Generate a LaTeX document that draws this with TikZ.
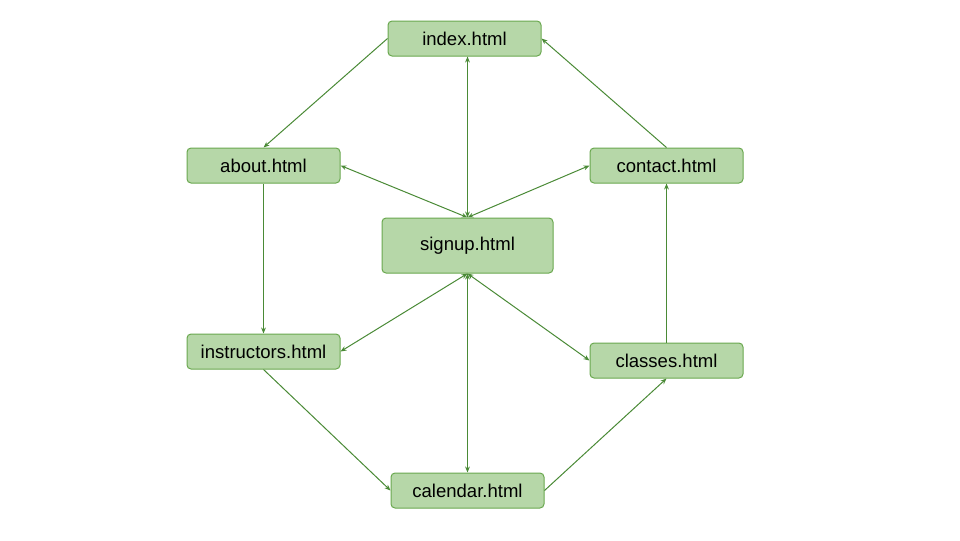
\documentclass[tikz,border=0pt]{standalone}
\usepackage{fontspec}
\setmainfont{Liberation Sans}
\usetikzlibrary{arrows.meta}
\definecolor{boxfill}{HTML}{B6D7A8}
\definecolor{boxline}{HTML}{6AA84F}
\definecolor{edgecol}{HTML}{4A8A36}
\tikzset{
  page/.style={x=0.75pt,y=-0.75pt},
  pagebox/.style={draw=boxline,fill=boxfill,line width=0.75pt,rounded corners=3pt,
    minimum width=114.75pt,minimum height=26.25pt,inner sep=0pt,font=\fontsize{13.9pt}{16pt}\selectfont},
  bigbox/.style={pagebox,minimum width=128.25pt,minimum height=41.25pt},
  link/.style={draw=edgecol,line width=0.75pt,-{Stealth[length=4.5pt,width=3.6pt]}},
  dlink/.style={draw=edgecol,line width=0.75pt,{Stealth[length=4.5pt,width=3.6pt]}-{Stealth[length=4.5pt,width=3.6pt]}}
}
\begin{document}
\begin{tikzpicture}[page]
\useasboundingbox (0,0) rectangle (960,540);
\node[pagebox] (index) at (464.5,38.5) {index.html};
\node[pagebox] (about) at (263.5,165.5) {about.html};
\node[pagebox] (contact) at (666.5,165.5) {contact.html};
\node[bigbox] (signup) at (467.5,245.5) {signup.html};
\node[pagebox] (instructors) at (263.5,351.5) {instructors.html};
\node[pagebox] (classes) at (666.5,360.5) {classes.html};
\node[pagebox] (calendar) at (467.5,490.5) {calendar.html};
\coordinate (idxbot) at (signup.north |- index.south);
\draw[link] (index.west) -- (about.north);
\draw[dlink] (idxbot) -- (signup.north);
\draw[link] (contact.north) -- (index.east);
\draw[dlink] (about.east) -- (signup.north);
\draw[dlink] (contact.west) -- (signup.north);
\draw[link] (about.south) -- (instructors.north);
\draw[dlink] (instructors.east) -- (signup.south);
\draw[dlink] (classes.west) -- (signup.south);
\draw[dlink] (signup.south) -- (calendar.north);
\draw[link] (instructors.south) -- (calendar.west);
\draw[link] (calendar.east) -- (classes.south);
\draw[link] (classes.north) -- (contact.south);
\end{tikzpicture}
\end{document}
